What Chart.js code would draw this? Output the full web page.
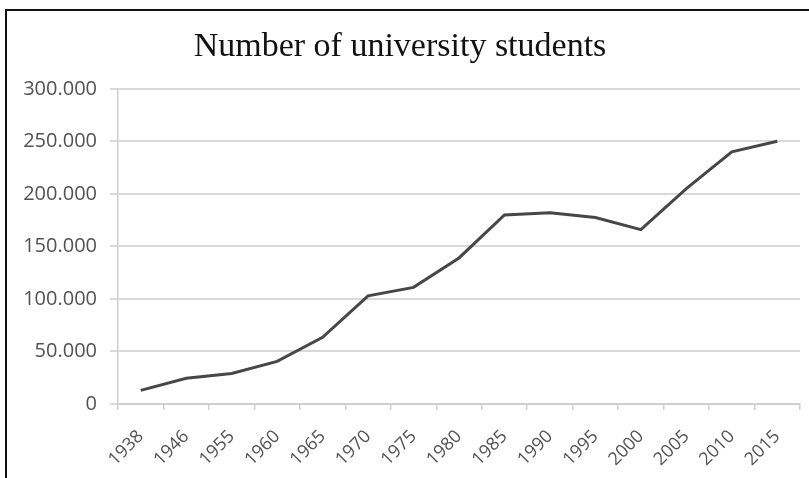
<!DOCTYPE html>
<html>
<head>
    <meta charset="UTF-8">
    <title>Number of university students</title>
    <script src="https://cdn.jsdelivr.net/npm/chart.js"></script>
    <style>
        html, body {
            margin: 0;
            padding: 0;
            background: #fff;
        }
        #wrap {
            position: relative;
            width: 809px;
            height: 478px;
        }
        #frame {
            position: absolute;
            left: 5px;
            top: 9px;
            right: -2px;
            bottom: -2px;
            border-top: 2px solid #111;
            border-left: 2px solid #111;
            pointer-events: none;
        }
    </style>
</head>
<body>
    <div id="wrap">
        <canvas id="chart" width="809" height="478"></canvas>
        <div id="frame"></div>
    </div>
    <script>
        const years = ['1938', '1946', '1955', '1960', '1965', '1970', '1975', '1980',
            '1985', '1990', '1995', '2000', '2005', '2010', '2015'];
        const students = [13000, 24500, 29000, 40500, 63500, 103000, 111000, 139000,
            180000, 182000, 177500, 166000, 205000, 240000, 250000];

        const Y_MAX = 300000;
        const Y_STEP = 50000;
        const TICK_COLOR = '#525252';
        const GRID_COLOR = '#d9d9d9';

        new Chart(document.getElementById('chart'), {
            type: 'line',
            data: {
                labels: years,
                datasets: [{
                    label: 'Students',
                    data: students,
                    borderColor: '#474747',
                    borderWidth: 3,
                    pointRadius: 0,
                    pointHitRadius: 0,
                    tension: 0,
                    fill: false
                }]
            },
            options: {
                responsive: false,
                animation: false,
                layout: {
                    padding: { left: 0, right: 9, top: 0, bottom: 0 }
                },
                plugins: {
                    legend: { display: false },
                    tooltip: { enabled: false },
                    title: {
                        display: true,
                        text: 'Number of university students',
                        color: '#111',
                        font: { family: '"Liberation Serif", serif', size: 34, weight: 'normal', lineHeight: 1.2 },
                        padding: { top: 27, bottom: 21 }
                    }
                },
                scales: {
                    x: {
                        offset: true,
                        grid: {
                            display: true,
                            offset: true,
                            drawOnChartArea: false,
                            drawTicks: true,
                            tickLength: 6,
                            color: '#cfcfcf',
                            lineWidth: 1.5
                        },
                        border: { display: true, color: '#cfcfcf', width: 2 },
                        ticks: {
                            autoSkip: false,
                            minRotation: 45,
                            maxRotation: 45,
                            padding: 16,
                            color: TICK_COLOR,
                            font: { family: '"Open Sans", sans-serif', size: 18 }
                        },
                        afterFit(scale) { scale.height = 74; }
                    },
                    y: {
                        min: 0,
                        max: Y_MAX,
                        grid: {
                            color: GRID_COLOR,
                            lineWidth: 2,
                            tickLength: 8
                        },
                        border: { display: true, color: '#cfcfcf', width: 1.5 },
                        ticks: {
                            stepSize: Y_STEP,
                            padding: 13,
                            color: TICK_COLOR,
                            font: { family: '"Open Sans", sans-serif', size: 20 },
                            callback: (v) => v.toLocaleString('de-DE')
                        },
                        afterFit(scale) { scale.width = 118; }
                    }
                }
            }
        });
    </script>
</body>
</html>
